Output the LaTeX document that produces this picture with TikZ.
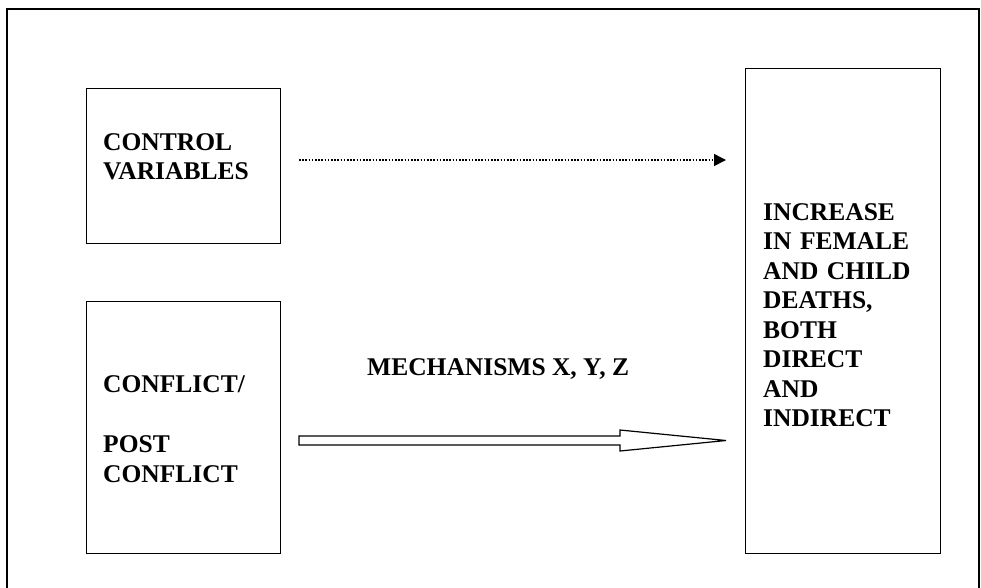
\documentclass[tikz,border=0pt]{standalone}
\usepackage{fontspec}
\setmainfont{Liberation Serif}
\usetikzlibrary{arrows.meta}
\begin{document}
\begin{tikzpicture}[x=1pt,y=-1pt,
  frame/.style={draw=black,line width=1.6pt},
  boxnode/.style={draw=black,line width=1.2pt,rectangle},
  lbl/.style={inner sep=0pt,anchor=base west,align=left,text width=180pt,
    font=\fontsize{25.5}{29.5}\selectfont\bfseries},
  dotarrow/.style={line width=1.6pt,dash pattern=on 1.5pt off 1.7pt,
    -{Triangle[length=12pt,width=12pt]}},
  hollow/.style={draw=black,line width=1.2pt,fill=white,line join=miter}]
\useasboundingbox (0,0) rectangle (981,587);
\clip (0,0) rectangle (981,587);
\fill[white] (0,0) rectangle (981,587);
% outer frame
\draw[frame] (7,9) rectangle (979,600);
% boxes
\node[boxnode,minimum width=194pt,minimum height=155pt,anchor=north west] (ctrl) at (86,88) {};
\node[boxnode,minimum width=194pt,minimum height=252pt,anchor=north west] (conf) at (86,301) {};
\node[boxnode,minimum width=195pt,minimum height=485pt,anchor=north west] (out) at (745,68) {};
% texts
\node[lbl] (ctrltxt) at (103,150) {CONTROL\\VARIABLES};
\node[lbl] (conftxt) at (103,392) {CONFLICT/\\[31pt]POST\\CONFLICT};
\node[lbl] (outtxt) at (763,220) {INCREASE\\IN FEMALE\\AND CHILD\\DEATHS,\\BOTH\\DIRECT\\AND\\INDIRECT};
\node[inner sep=0pt,anchor=base west,font=\fontsize{25.5}{29.5}\selectfont\bfseries] (mech) at (367,375) {MECHANISMS X, Y, Z};
% dotted arrow
\coordinate (d1) at (299,160);
\coordinate (d2) at (726,160);
\draw[dotarrow] (d1) -- (d2);
% hollow arrow
\coordinate (h1) at (299,440.5);
\coordinate (h2) at (726,440.5);
\draw[hollow] (h1) ++(0,-4.5) -- (620,436) -- (620,430) -- (h2) -- (620,451) -- (620,445) -- (299,445) -- cycle;
\end{tikzpicture}
\end{document}
